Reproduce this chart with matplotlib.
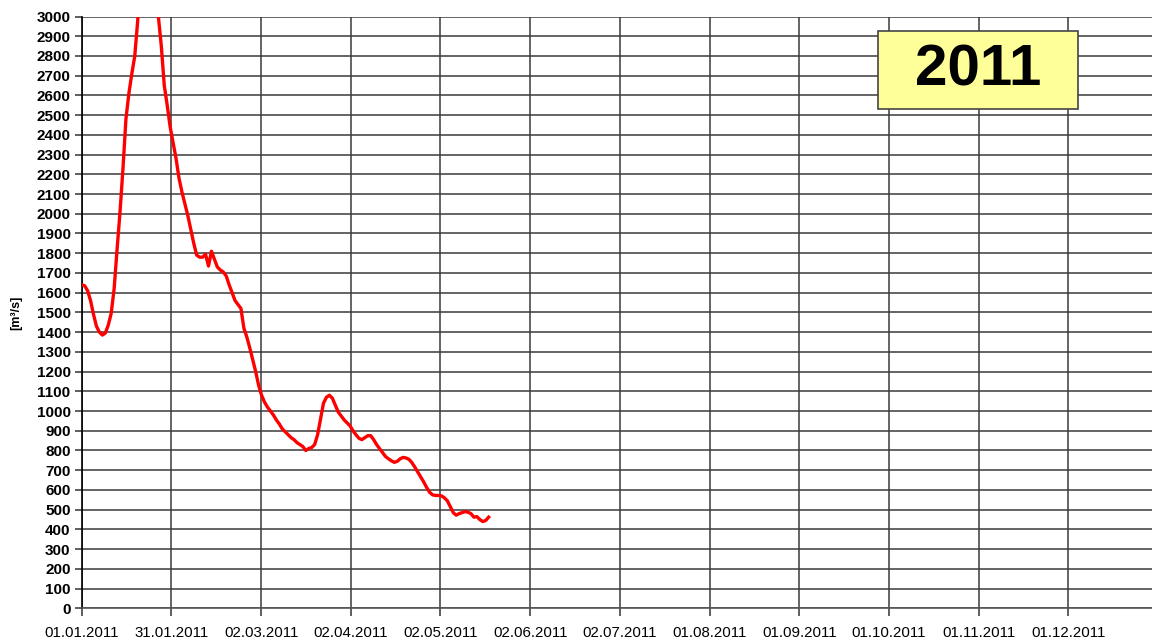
import matplotlib
matplotlib.use("Agg")
import matplotlib.pyplot as plt
from matplotlib.patches import Rectangle
import numpy as np

plt.rcParams['font.family'] = ['Liberation Sans', 'DejaVu Sans']

# Daily discharge [m³/s] starting 01.01.2011 (day 0)
discharge = [
    1640, 1635, 1610, 1560, 1490, 1430, 1400, 1385, 1395, 1435,
    1495, 1620, 1820, 2010, 2230, 2480, 2610, 2710, 2800, 2980,
    3250, 3450, 3550, 3550, 3400, 3200, 3000, 2850, 2650, 2550,
    2440, 2360, 2280, 2180, 2110, 2050, 1990, 1920, 1850, 1790,
    1780, 1780, 1795, 1735, 1810, 1770, 1730, 1715, 1705, 1685,
    1640, 1600, 1560, 1540, 1520, 1420, 1375, 1320, 1260, 1200,
    1130, 1080, 1045, 1020, 1000, 980, 955, 935, 910, 895,
    880, 865, 855, 840, 830, 820, 800, 810, 815, 830,
    880, 960, 1040, 1070, 1080, 1065, 1030, 995, 975, 955,
    940, 925, 900, 880, 862, 855, 865, 875, 875, 855,
    830, 810, 790, 770, 758, 748, 740, 745, 758, 765,
    762, 755, 738, 715, 690, 665, 640, 612, 588, 575,
    572, 572, 570, 560, 545, 515, 485, 472, 480, 485,
    490, 487, 480, 462, 465, 450, 440, 445, 462,
]
days = np.arange(len(discharge))

x_tick_labels = ["01.01.2011", "31.01.2011", "02.03.2011", "02.04.2011",
                 "02.05.2011", "02.06.2011", "02.07.2011", "01.08.2011",
                 "01.09.2011", "01.10.2011", "01.11.2011", "01.12.2011"]
x_tick_pos = [365 / 12 * k for k in range(len(x_tick_labels))]
y_ticks = list(range(0, 3001, 100))
year_label = "2011"

W, H = 1152, 642
fig = plt.figure(figsize=(W / 100, H / 100), dpi=100)
fig.patch.set_facecolor("white")

left, right, top, bottom = 81.7, 1158.0, 16.5, 608.3
ax = fig.add_axes([left / W, 1 - bottom / H, (right - left) / W, (bottom - top) / H])

ax.set_xlim(0, 365)
ax.set_ylim(0, 3000)

grid_color = "#3a3a3a"
ax.set_yticks(y_ticks)
ax.set_xticks(x_tick_pos)
ax.set_xticklabels(x_tick_labels)
ax.grid(True, color=grid_color, linewidth=1.1)
ax.set_axisbelow(True)

ax.plot(days, discharge, color="#ff0000", linewidth=2.4, solid_joinstyle="round", zorder=3)

for s in ["top", "right"]:
    ax.spines[s].set_visible(False)
ax.spines["left"].set_color("black")
ax.spines["left"].set_linewidth(1.2)
ax.spines["bottom"].set_color("#555555")
ax.spines["bottom"].set_linewidth(1.2)

ax.tick_params(axis="y", direction="out", length=5, width=1.1, color="#333333",
               labelsize=11, pad=3)
ax.tick_params(axis="x", direction="out", length=6, width=1.1, color="#333333",
               labelsize=10.8, pad=7)
for lbl in ax.get_yticklabels():
    lbl.set_fontweight("bold")

ax.set_ylabel("[m³/s]", fontsize=9, fontweight="bold")
ax.yaxis.set_label_coords(-0.0555, 0.5)

# Year badge
bx0, bx1, by0, by1 = 878, 1078, 31, 109
fig.patches.append(Rectangle((bx0 / W, 1 - by1 / H), (bx1 - bx0) / W, (by1 - by0) / H,
                             transform=fig.transFigure, facecolor="#ffff99",
                             edgecolor="#444444", linewidth=1.2, zorder=5))
fig.text((bx0 + bx1) / 2 / W, 1 - (by0 + by1) / 2 / H, year_label,
         ha="center", va="center", fontsize=42, fontweight="bold", zorder=6)

fig.savefig("out.png", dpi=100)
